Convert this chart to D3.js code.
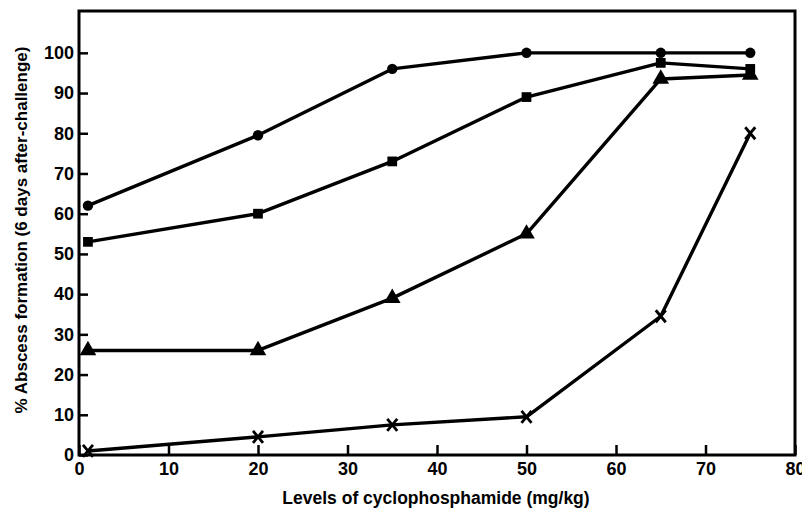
<!DOCTYPE html>
<html>
<head>
<meta charset="utf-8">
<script src="https://cdn.jsdelivr.net/npm/d3@7"></script>
<style>
  body { margin: 0; background: #fff; }
  text { font-family: "Liberation Sans", Arial, sans-serif; font-weight: bold; fill: #000; }
</style>
</head>
<body>
<svg width="802" height="516"></svg>
<script>
const doses = [1, 20, 35, 50, 65, 75];
const circleVals = [62, 79.5, 96, 100, 100, 100];
const squareVals = [53, 60, 73, 89, 97.5, 96];
const triangleVals = [26, 26, 39, 55, 93.5, 94.5];
const crossVals = [1, 4.5, 7.5, 9.5, 34.5, 80];
const xTicks = [0, 10, 20, 30, 40, 50, 60, 70, 80];
const yTicks = [0, 10, 20, 30, 40, 50, 60, 70, 80, 90, 100];

const svg = d3.select("svg");
const plotL = 79, plotR = 795, plotT = 11, plotB = 455;

const x = d3.scaleLinear().domain([0, 80]).range([plotL, plotR]);
const y = d3.scaleLinear().domain([0, 110.4]).range([plotB, plotT]);

// frame
svg.append("rect")
  .attr("x", plotL).attr("y", plotT)
  .attr("width", plotR - plotL).attr("height", plotB - plotT)
  .attr("fill", "none").attr("stroke", "#000").attr("stroke-width", 3);

// x axis, ticks pointing inward
const xa = svg.append("g")
  .attr("transform", `translate(0,${plotB})`)
  .call(d3.axisBottom(x).tickValues(xTicks).tickSize(-10).tickPadding(7).tickFormat(d => d));
xa.select(".domain").remove();
xa.selectAll(".tick line").attr("stroke-width", 2.5);
xa.selectAll(".tick text").attr("font-size", 18);

// y axis
const ya = svg.append("g")
  .attr("transform", `translate(${plotL},0)`)
  .call(d3.axisLeft(y).tickValues(yTicks).tickSize(-9).tickPadding(5).tickFormat(d => d));
ya.select(".domain").remove();
ya.selectAll(".tick line").attr("stroke-width", 2.5);
ya.selectAll(".tick text").attr("font-size", 18);

// axis titles
svg.append("text")
  .attr("x", 436).attr("y", 504)
  .attr("text-anchor", "middle").attr("font-size", 17.5)
  .text("Levels of cyclophosphamide (mg/kg)");
svg.append("text")
  .attr("transform", `translate(27,230) rotate(-90)`)
  .attr("text-anchor", "middle").attr("font-size", 17)
  .text("% Abscess formation (6 days after-challenge)");

const line = d3.line().x((d, i) => x(doses[i])).y(d => y(d));
const series = [
  { vals: circleVals, shape: d3.symbolCircle, size: 85 },
  { vals: squareVals, shape: d3.symbolSquare, size: 95 },
  { vals: triangleVals, shape: d3.symbolTriangle, size: 120 },
  { vals: crossVals, shape: null, size: 0 }
];

series.forEach(s => {
  svg.append("path")
    .datum(s.vals)
    .attr("d", line)
    .attr("fill", "none").attr("stroke", "#000").attr("stroke-width", 3.4)
    .attr("stroke-linejoin", "round");
  const g = svg.append("g");
  if (s.shape) {
    g.selectAll("path").data(s.vals).join("path")
      .attr("transform", (d, i) => `translate(${x(doses[i])},${y(d)})`)
      .attr("d", d3.symbol().type(s.shape).size(s.size))
      .attr("fill", "#000");
  } else {
    g.selectAll("path").data(s.vals).join("path")
      .attr("transform", (d, i) => `translate(${x(doses[i])},${y(d)})`)
      .attr("d", "M-5,-6L5,6M5,-6L-5,6")
      .attr("stroke", "#000").attr("stroke-width", 2.8).attr("fill", "none");
  }
});
</script>
</body>
</html>
